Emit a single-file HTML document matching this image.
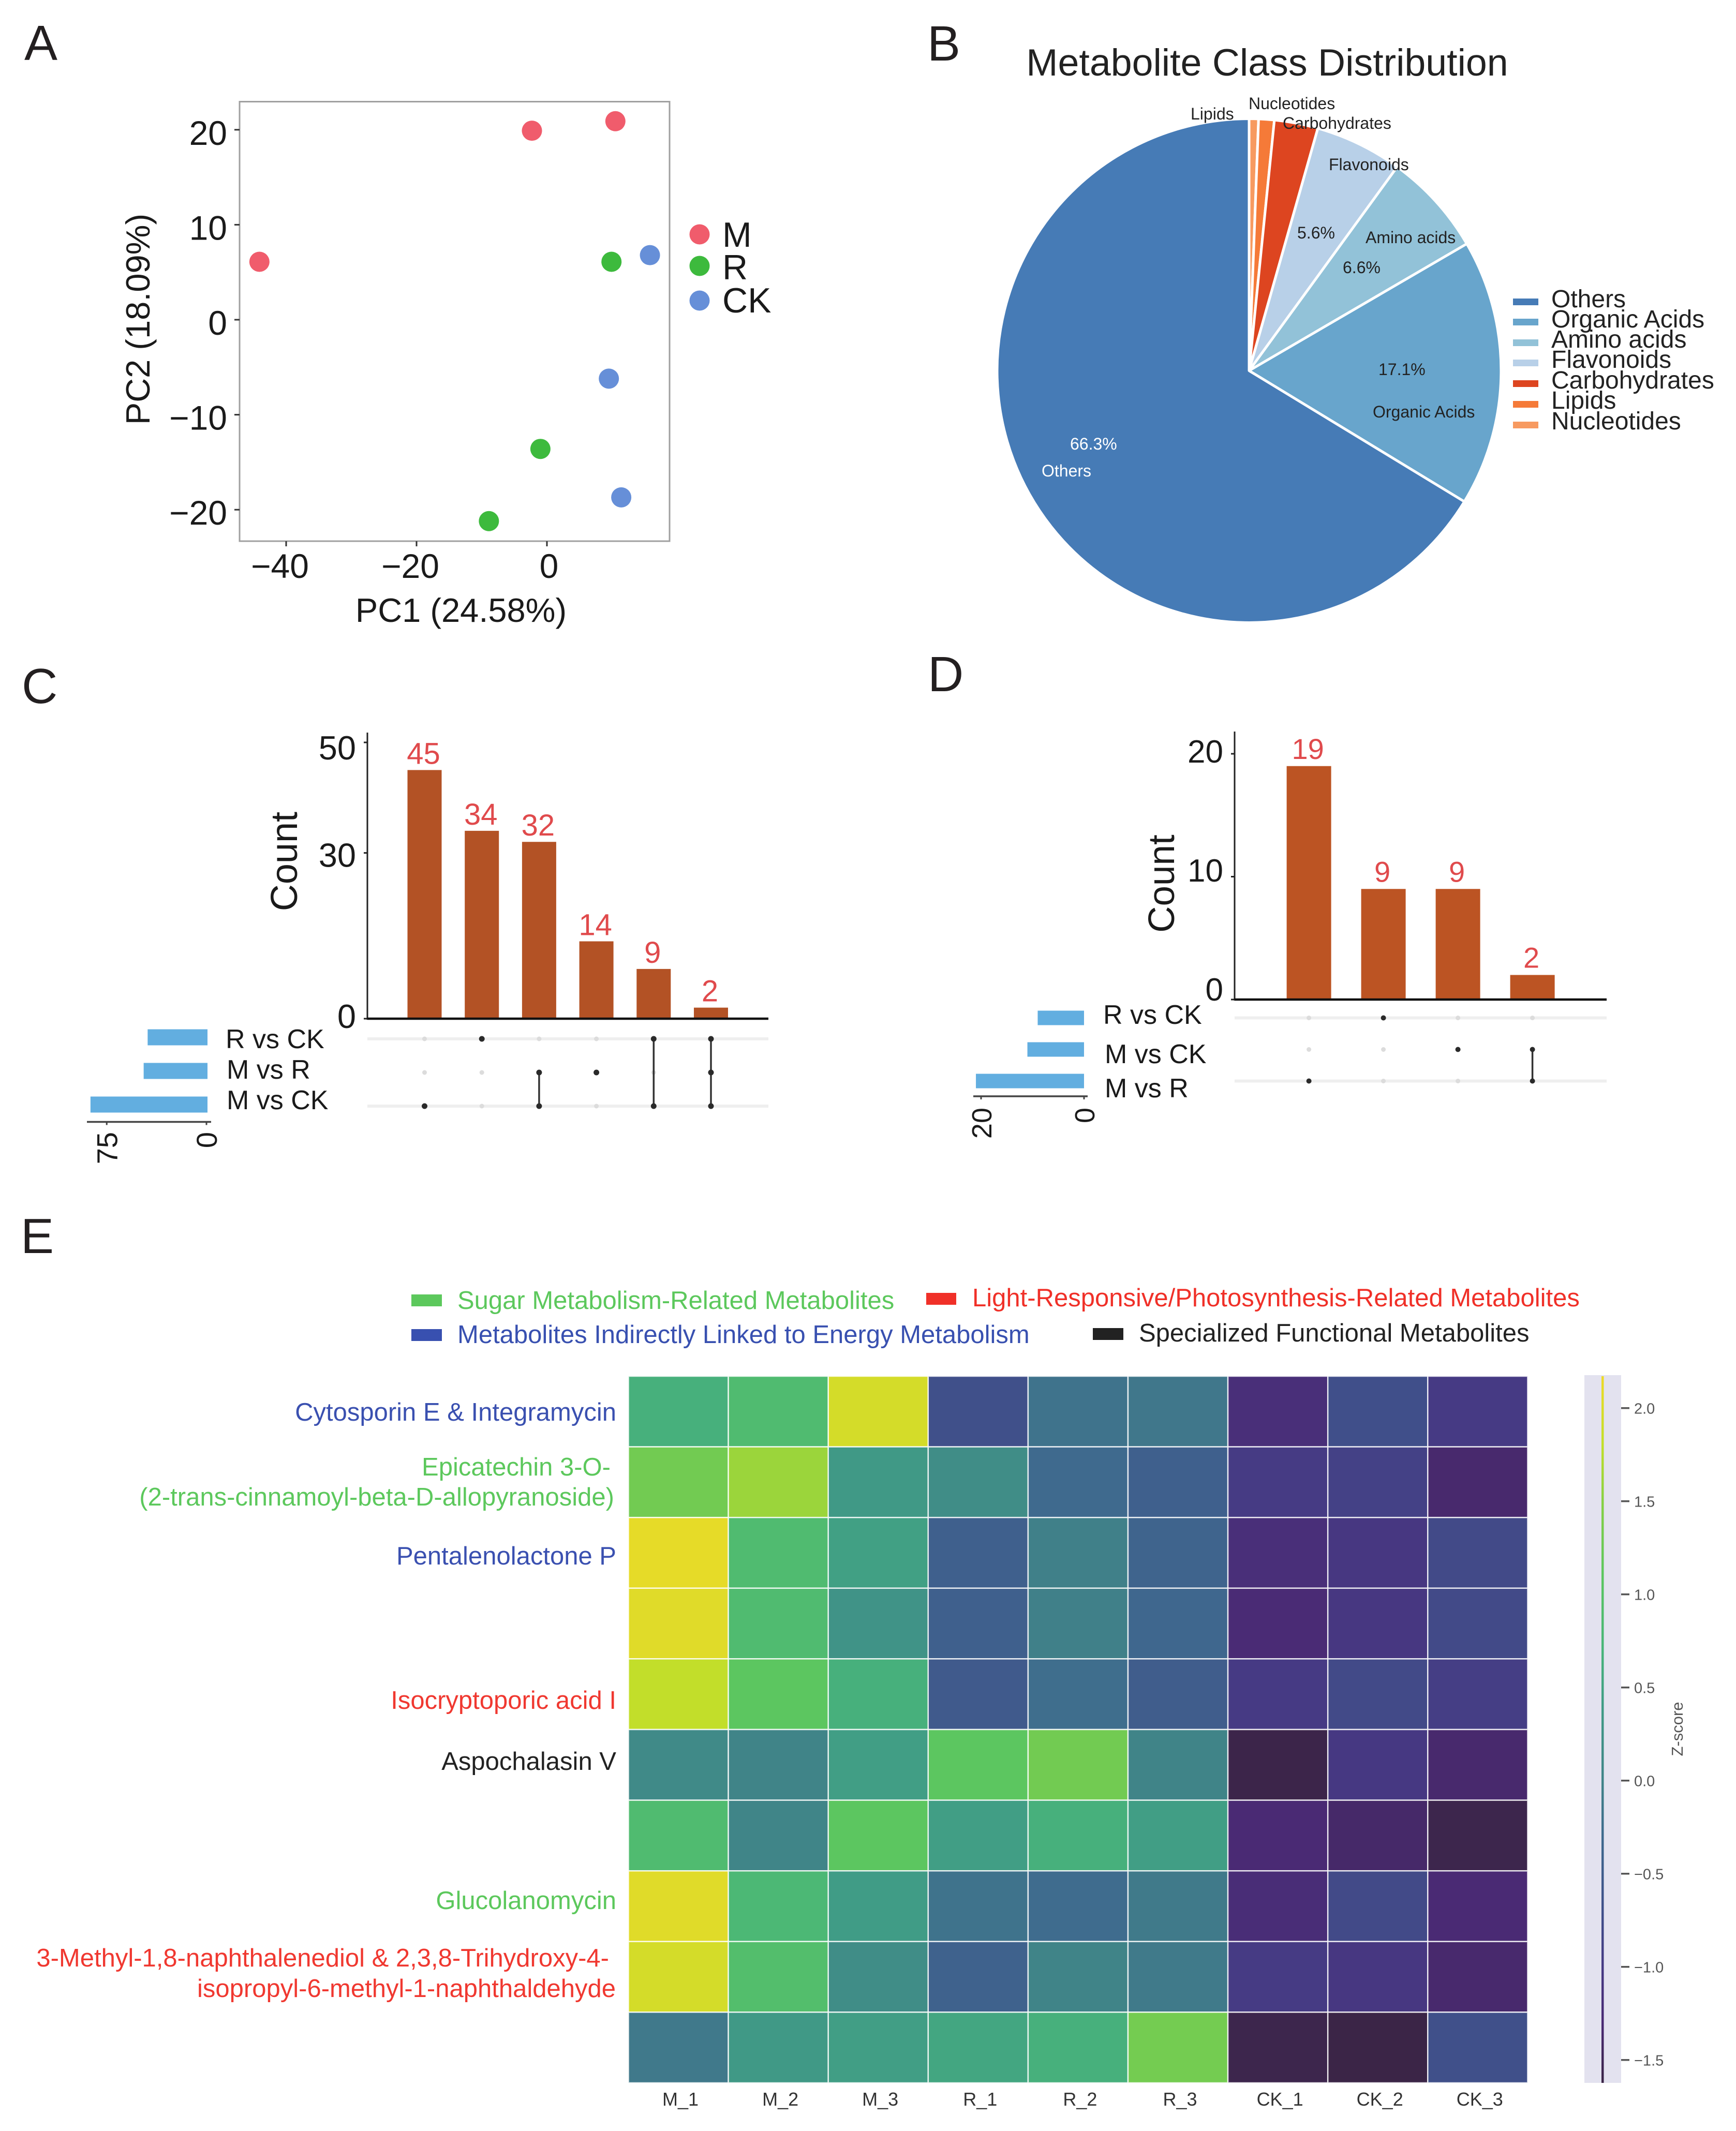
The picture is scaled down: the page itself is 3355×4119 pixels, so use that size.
<!DOCTYPE html>
<html lang="en">
<head>
<meta charset="utf-8">
<title>Metabolomics multi-panel figure</title>
<style>
html,body{margin:0;padding:0;background:#fff;}
svg{display:block;font-family:"Liberation Sans",sans-serif;}
</style>
</head>
<body>
<svg id="figure" xmlns="http://www.w3.org/2000/svg" width="3355" height="4119" viewBox="0 0 3355 4119">
<rect x="0" y="0" width="3355" height="4119" fill="#ffffff"/>

<g fill="#231f20" font-size="96">
<text x="47" y="116">A</text>
<text x="1792" y="117">B</text>
<text x="42" y="1359">C</text>
<text x="1793" y="1336">D</text>
<text x="40" y="2422">E</text>
</g>

<g id="panel-a" fill="#1a1a1a">
<rect x="463" y="196.5" width="831" height="849.5" fill="#fff" stroke="#a0a0a0" stroke-width="3"/>
<text x="891" y="1202" font-size="65" text-anchor="middle">PC1 (24.58%)</text>
<text transform="translate(289,617) rotate(-90)" font-size="65" text-anchor="middle">PC2 (18.09%)</text>
<circle cx="1352" cy="453" r="19.5" fill="#F05C6C"/>
<circle cx="1352" cy="514" r="19.5" fill="#3DBA3D"/>
<circle cx="1352" cy="581" r="19.5" fill="#668FD8"/>
<text x="1396" y="477" font-size="68">M</text>
<text x="1396" y="540" font-size="68">R</text>
<text x="1396" y="604" font-size="68">CK</text>
</g>

<g id="panel-b">
<text x="2449" y="146" font-size="73.5" text-anchor="middle" fill="#222">Metabolite Class Distribution</text>
<g id="pie-slices"></g>
<g font-size="32" fill="#222">
<text x="2301" y="231">Lipids</text>
<text x="2413" y="211">Nucleotides</text>
<text x="2479" y="249">Carbohydrates</text>
<text x="2568" y="329">Flavonoids</text>
<text x="2639" y="470">Amino acids</text>
<text x="2507" y="461">5.6%</text>
<text x="2595" y="528">6.6%</text>
<text x="2664" y="725">17.1%</text>
<text x="2653" y="807">Organic Acids</text>
<text x="2068" y="869" fill="#fff">66.3%</text>
<text x="2013" y="921" fill="#fff">Others</text>
</g>
<g font-size="48" fill="#222">
<rect x="2924" y="577" width="49" height="13" fill="#467BB6"/>
<rect x="2924" y="616" width="49" height="13" fill="#68A5CC"/>
<rect x="2924" y="656" width="49" height="13" fill="#92C2D8"/>
<rect x="2924" y="695" width="49" height="13" fill="#B8D0E8"/>
<rect x="2924" y="735" width="49" height="13" fill="#DD4520"/>
<rect x="2924" y="775" width="49" height="13" fill="#F57A38"/>
<rect x="2924" y="815" width="49" height="13" fill="#F79A60"/>
<text x="2998" y="594">Others</text>
<text x="2998" y="633">Organic Acids</text>
<text x="2998" y="672">Amino acids</text>
<text x="2998" y="711">Flavonoids</text>
<text x="2998" y="751">Carbohydrates</text>
<text x="2998" y="790">Lipids</text>
<text x="2998" y="830">Nucleotides</text>
</g>
</g>

<g id="panel-c" fill="#1a1a1a">
<text transform="translate(574,1665) rotate(-90)" font-size="72" text-anchor="middle">Count</text>
<g font-size="52">
<text x="436" y="2026">R vs CK</text>
<text x="438" y="2085">M vs R</text>
<text x="438" y="2144">M vs CK</text>
</g>
</g>

<g id="panel-d" fill="#1a1a1a">
<text transform="translate(2269,1708) rotate(-90)" font-size="71" text-anchor="middle">Count</text>
<g font-size="52">
<text x="2132" y="1979">R vs CK</text>
<text x="2135" y="2055">M vs CK</text>
<text x="2135" y="2121">M vs R</text>
</g>
</g>

<g id="panel-e">
<g font-size="49">
<rect x="795" y="2502" width="59" height="23" fill="#5CC85C"/>
<text x="884" y="2530" fill="#5CC85C">Sugar Metabolism-Related Metabolites</text>
<rect x="1790" y="2499" width="58" height="23" fill="#F03028"/>
<text x="1879" y="2525" fill="#F03028">Light-Responsive/Photosynthesis-Related Metabolites</text>
<rect x="795" y="2569" width="59" height="23" fill="#3850B0"/>
<text x="884" y="2596" fill="#3850B0">Metabolites Indirectly Linked to Energy Metabolism</text>
<rect x="2112" y="2567" width="59" height="23" fill="#222222"/>
<text x="2201" y="2593" fill="#222222">Specialized Functional Metabolites</text>
</g>
<g font-size="49" text-anchor="end">
<text x="1191" y="2746" fill="#3A50B0">Cytosporin E &amp; Integramycin</text>
<text x="1180" y="2852" fill="#5CC85C">Epicatechin 3-O-</text>
<text x="1187" y="2910" fill="#5CC85C">(2-trans-cinnamoyl-beta-D-allopyranoside)</text>
<text x="1191" y="3024" fill="#3A50B0">Pentalenolactone P</text>
<text x="1191" y="3303" fill="#F03830">Isocryptoporic acid I</text>
<text x="1191" y="3421" fill="#222222">Aspochalasin V</text>
<text x="1191" y="3690" fill="#5CC85C">Glucolanomycin</text>
<text x="1177" y="3801" fill="#F03830">3-Methyl-1,8-naphthalenediol &amp; 2,3,8-Trihydroxy-4-</text>
<text x="1190" y="3860" fill="#F03830">isopropyl-6-methyl-1-naphthaldehyde</text>
</g>
<defs><linearGradient id="cbar-gradient" x1="0" y1="0" x2="0" y2="1"></linearGradient></defs>
<rect x="3062" y="2658" width="71" height="1368" fill="#E3E2EF"/>
<text transform="translate(3252,3342) rotate(-90)" font-size="31" text-anchor="middle" fill="#555">Z-score</text>
</g>

<script>
/* ---------- Panel A data ---------- */
const pcaGroups = ['M', 'R', 'CK'];
const pc1M = [-2.3, 10.5, -44.1];
const pc2M = [19.9, 20.9, 6.1];
const pc1R = [9.9, -1.0, -8.9];
const pc2R = [6.1, -13.6, -21.2];
const pc1CK = [15.8, 9.5, 11.4];
const pc2CK = [6.8, -6.2, -18.7];
const pcaXTicks = [-40, -20, 0];
const pcaYTicks = [-20, -10, 0, 10, 20];

/* ---------- Panel B data ---------- */
const pieCategories = ['Nucleotides', 'Lipids', 'Carbohydrates', 'Flavonoids', 'Amino acids', 'Organic Acids', 'Others'];
const pieValues = [0.6, 1.0, 2.8, 5.6, 6.6, 17.1, 66.3];
const pieColors = ['#F79A60', '#F57A38', '#DD4520', '#B8D0E8', '#92C2D8', '#68A5CC', '#467BB6'];

/* ---------- Panel C data ---------- */
const countsC = [45, 34, 32, 14, 9, 2];
const membersC = [[2], [0], [1, 2], [1], [0, 2], [0, 1, 2]];
const setSizesC = [45, 48, 88];
const countTicksC = [0, 30, 50];
const setTicksC = [75, 0];

/* ---------- Panel D data ---------- */
const countsD = [19, 9, 9, 2];
const membersD = [[2], [0], [1], [1, 2]];
const setSizesD = [9, 11, 21];
const countTicksD = [0, 10, 20];
const setTicksD = [20, 0];

/* ---------- Panel E data ---------- */
const sampleLabels = ['M_1', 'M_2', 'M_3', 'R_1', 'R_2', 'R_3', 'CK_1', 'CK_2', 'CK_3'];
const zRow1 = [0.65, 0.85, 1.95, -0.70, -0.20, -0.15, -1.20, -0.72, -1.00];
const zRow2 = [1.30, 1.60, 0.35, 0.15, -0.30, -0.45, -0.98, -0.90, -1.35];
const zRow3 = [2.10, 0.85, 0.45, -0.45, -0.05, -0.40, -1.20, -1.05, -0.78];
const zRow4 = [2.05, 0.85, 0.25, -0.45, -0.05, -0.35, -1.28, -1.05, -0.78];
const zRow5 = [1.80, 1.10, 0.65, -0.55, -0.25, -0.50, -1.00, -0.78, -0.95];
const zRow6 = [0.10, 0.00, 0.42, 1.10, 1.30, 0.00, -1.60, -1.03, -1.35];
const zRow7 = [0.85, 0.02, 1.10, 0.42, 0.65, 0.42, -1.30, -1.38, -1.58];
const zRow8 = [2.05, 0.78, 0.40, -0.20, -0.28, -0.12, -1.25, -0.78, -1.30];
const zRow9 = [1.95, 0.92, 0.15, -0.42, 0.00, -0.12, -0.98, -1.05, -1.35];
const zRow10 = [-0.13, 0.35, 0.42, 0.52, 0.65, 1.32, -1.58, -1.62, -0.70];
const colorbarTicks = [2.0, 1.5, 1.0, 0.5, 0.0, -0.5, -1.0, -1.5];
const cmapValues = [-1.62, -1.3, -1.0, -0.7, -0.3, 0.0, 0.4, 0.7, 1.1, 1.5, 1.8, 2.17];
const cmapColors = ['#3B2547', '#4A2A74', '#463A84', '#40508A', '#3F6A8E', '#408488', '#409C86', '#48B47A', '#5CC660', '#88D044', '#C2DE2A', '#EEDA28'];

const NS = 'http://www.w3.org/2000/svg';
function mk(tag, attrs, parent, txt) {
  const el = document.createElementNS(NS, tag);
  for (const k in attrs) el.setAttribute(k, attrs[k]);
  if (txt !== undefined) el.textContent = txt;
  parent.appendChild(el);
  return el;
}
function fmt(v) { return String(v).replace('-', '\u2212'); }

/* ---------- Panel A ---------- */
(function () {
  const p = document.getElementById('panel-a');
  const xS = v => 1057 + 12.6 * v;
  const yS = v => 618 - 18.36 * v;
  pcaXTicks.forEach(v => {
    const t = mk('line', { x1: xS(v), x2: xS(v), y1: 1046, y2: 1056, stroke: '#333', 'stroke-width': 3 }, p);
    
    
    const l = mk('text', { x: xS(v) + (v < 0 ? -12 : 4), y: 1117, 'font-size': 66, 'text-anchor': 'middle' }, p, fmt(v));
    
    
  });
  pcaYTicks.forEach(v => {
    const t = mk('line', { x1: 453, x2: 463, y1: yS(v), y2: yS(v), stroke: '#333', 'stroke-width': 3 }, p);
    
    
    const l = mk('text', { x: 439, y: yS(v) + 29, 'font-size': 66, 'text-anchor': 'end' }, p, fmt(v));
    
    
  });
  const groupX = [pc1M, pc1R, pc1CK];
  const groupY = [pc2M, pc2R, pc2CK];
  const groupFill = ['#F05C6C', '#3DBA3D', '#668FD8'];
  pcaGroups.forEach((g, i) => {
    groupX[i].forEach((vx, j) => {
      const c = mk('circle', { cx: xS(vx), cy: yS(groupY[i][j]), r: 19.5, fill: groupFill[i] }, p);
      
      
    });
  });
})();

/* ---------- Panel B ---------- */
(function () {
  const g = document.getElementById('pie-slices');
  const cx = 2414, cy = 716.5, r = 487;
  const total = pieValues.reduce((a, b) => a + b, 0);
  let acc = 0;
  const pt = f => {
    const a = f * 2 * Math.PI;
    return [cx + r * Math.sin(a), cy - r * Math.cos(a)];
  };
  pieValues.forEach((v, i) => {
    const a0 = acc / total;
    acc += v;
    const a1 = acc / total;
    const p0 = pt(a0), p1 = pt(a1);
    const large = a1 - a0 > 0.5 ? 1 : 0;
    const d = 'M' + cx + ' ' + cy + 'L' + p0[0] + ' ' + p0[1] + 'A' + r + ' ' + r + ' 0 ' + large + ' 1 ' + p1[0] + ' ' + p1[1] + 'Z';
    const s = mk('path', { d: d, fill: pieColors[i], stroke: '#fff', 'stroke-width': 5, 'stroke-linejoin': 'round' }, g);
    
    
  });
})();

/* ---------- Panels C and D ---------- */
function drawUpset(cfg) {
  const p = document.getElementById(cfg.panel);
  const pre = cfg.prefix;
  const yS = v => cfg.y0 - cfg.yScale * v;
  const colX = i => cfg.col0 + cfg.colStep * i;
  const rowY = i => cfg.row0 + cfg.rowStep * i;
  const setX = v => cfg.setX0 - cfg.setScale * v;

  cfg.countTicks.forEach(v => {
    const t = mk('line', { x1: cfg.axisX - 7, x2: cfg.axisX, y1: yS(v), y2: yS(v), stroke: '#222', 'stroke-width': 3 }, p);
    
    
    const l = mk('text', { x: cfg.axisX - 22, y: cfg.labBase - cfg.labScale * v, 'font-size': cfg.tickFont, 'text-anchor': 'end' }, p, fmt(v));
    
    
  });

  cfg.counts.forEach((v, i) => {
    const b = mk('rect', { x: colX(i) - cfg.barW / 2, y: yS(v), width: cfg.barW, height: cfg.y0 - yS(v), fill: cfg.barFill }, p);
    
    
    const l = mk('text', { x: colX(i) - 2, y: yS(v) - cfg.valGap, 'font-size': cfg.valFont, 'text-anchor': 'middle', fill: '#E04A4C' }, p, v);
    
    
  });

  const yAxis = mk('line', { x1: cfg.axisX, x2: cfg.axisX, y1: cfg.axisTop, y2: cfg.y0 + 2, stroke: '#222', 'stroke-width': 3 }, p);
  
  
  const xAxis = mk('line', { x1: cfg.axisX, x2: cfg.axisEnd, y1: cfg.y0, y2: cfg.y0, stroke: '#111', 'stroke-width': 4.5 }, p);
  
  

  [0, 2].forEach(r => {
    const band = mk('rect', { x: cfg.axisX, y: rowY(r) - 3, width: cfg.axisEnd - cfg.axisX, height: 6, fill: '#EFEFEF' }, p);
    
    
  });

  cfg.members.forEach((m, i) => {
    cfg.setSizes.forEach((s, r) => {
      if (m.indexOf(r) < 0) {
        const d = mk('circle', { cx: colX(i), cy: rowY(r), r: 4.5, fill: '#DCDCDC' }, p);
        
        
      }
    });
    if (m.length > 1) {
      const c = mk('line', { x1: colX(i), x2: colX(i), y1: rowY(Math.min.apply(null, m)), y2: rowY(Math.max.apply(null, m)), stroke: '#333', 'stroke-width': 3.5 }, p);
      
      
    }
    m.forEach(r => {
      const d = mk('circle', { cx: colX(i), cy: rowY(r), r: cfg.dotR, fill: '#2A2A2A' }, p);
      
      
    });
  });

  cfg.setSizes.forEach((s, r) => {
    const b = mk('rect', { x: setX(s), y: rowY(r) + cfg.setOff - cfg.setH / 2, width: cfg.setX0 - setX(s), height: cfg.setH, fill: '#62AEE0' }, p);
    
    
  });

  const setAxis = mk('line', { x1: cfg.setAxisL, x2: cfg.setAxisR, y1: cfg.setAxisY, y2: cfg.setAxisY, stroke: '#444', 'stroke-width': 3.5 }, p);
  
  
  cfg.setTicks.forEach(v => {
    const x = setX(v) - cfg.setTickShift;
    const t = mk('line', { x1: x, x2: x, y1: cfg.setAxisY, y2: cfg.setAxisY + 6, stroke: '#444', 'stroke-width': 3 }, p);
    
    
    const l = mk('text', { transform: 'translate(' + (x + cfg.setLabGap) + ',' + cfg.setLabTop + ') rotate(-90)', 'font-size': cfg.setLabFont, 'text-anchor': 'end' }, p, v);
    
    
  });
}

drawUpset({
  panel: 'panel-c', prefix: 'upset-c', counts: countsC, members: membersC, setSizes: setSizesC,
  countTicks: countTicksC, setTicks: setTicksC,
  y0: 1969, yScale: 10.68, axisX: 710, axisEnd: 1485, axisTop: 1416,
  col0: 820.5, colStep: 110.7, barW: 66, barFill: '#B35225',
  labBase: 1987, labScale: 10.38, tickFont: 65, valFont: 58, valGap: 12,
  row0: 2008, rowStep: 65, dotR: 5.5, setOff: -3, setH: 31,
  setX0: 401, setScale: 2.57, setAxisL: 168, setAxisR: 408, setAxisY: 2168.5,
  setTickShift: 2, setLabGap: 20, setLabTop: 2188, setLabFont: 56
});

drawUpset({
  panel: 'panel-d', prefix: 'upset-d', counts: countsD, members: membersD, setSizes: setSizesD,
  countTicks: countTicksD, setTicks: setTicksD,
  y0: 1932, yScale: 23.75, axisX: 2386, axisEnd: 3105, axisTop: 1414,
  col0: 2529.6, colStep: 144, barW: 86, barFill: '#BC5423',
  labBase: 1934, labScale: 23, tickFont: 62, valFont: 56, valGap: 14,
  row0: 1967.5, rowStep: 61, dotR: 5, setOff: 0, setH: 28,
  setX0: 2095, setScale: 9.95, setAxisL: 1881, setAxisR: 2102, setAxisY: 2119,
  setTickShift: 0, setLabGap: 20, setLabTop: 2141, setLabFont: 54
});

/* ---------- Panel E ---------- */
function hex2rgb(h) {
  return [parseInt(h.substr(1, 2), 16), parseInt(h.substr(3, 2), 16), parseInt(h.substr(5, 2), 16)];
}
function colorFor(v) {
  const n = cmapValues.length;
  if (v <= cmapValues[0]) return cmapColors[0];
  if (v >= cmapValues[n - 1]) return cmapColors[n - 1];
  for (let i = 0; i < n - 1; i++) {
    if (v <= cmapValues[i + 1]) {
      const f = (v - cmapValues[i]) / (cmapValues[i + 1] - cmapValues[i]);
      const a = hex2rgb(cmapColors[i]), b = hex2rgb(cmapColors[i + 1]);
      return 'rgb(' + Math.round(a[0] + (b[0] - a[0]) * f) + ',' + Math.round(a[1] + (b[1] - a[1]) * f) + ',' + Math.round(a[2] + (b[2] - a[2]) * f) + ')';
    }
  }
}
(function () {
  const p = document.getElementById('panel-e');
  const rows = [zRow1, zRow2, zRow3, zRow4, zRow5, zRow6, zRow7, zRow8, zRow9, zRow10];
  const xS = i => 1214.5 + 193.1 * i;
  const yS = j => 2660 + 136.6 * j;
  rows.forEach((row, j) => {
    row.forEach((v, i) => {
      const c = mk('rect', { x: xS(i), y: yS(j), width: 193.1, height: 136.6, fill: colorFor(v), stroke: '#fff', 'stroke-width': 2.5, 'stroke-opacity': 0.82 }, p);
      
      
    });
  });
  sampleLabels.forEach((s, i) => {
    const l = mk('text', { x: xS(i) + 96.5 + 4, y: 4070, 'font-size': 36, 'text-anchor': 'middle', fill: '#333' }, p, s);
    
    
  });

  const barTop = 2660, barBottom = 4026;
  const zTop = 2.17, zBottom = -1.62;
  const grad = document.getElementById('cbar-gradient');
  cmapValues.slice().reverse().forEach(v => {
    mk('stop', { offset: (zTop - v) / (zTop - zBottom), 'stop-color': colorFor(v) }, grad);
  });
  const line = mk('rect', { x: 3095, y: barTop, width: 4.5, height: barBottom - barTop, fill: 'url(#cbar-gradient)' }, p);
  
  
  const cS = v => 3441.7 - 360 * v;
  colorbarTicks.forEach(v => {
    const t = mk('line', { x1: 3133, x2: 3149, y1: cS(v), y2: cS(v), stroke: '#555', 'stroke-width': 3.5 }, p);
    
    
    const l = mk('text', { x: 3158, y: cS(v) + 11, 'font-size': 29, fill: '#555' }, p, fmt(v.toFixed(1)));
    
    
  });
})();
</script>
</svg>
</body>
</html>
